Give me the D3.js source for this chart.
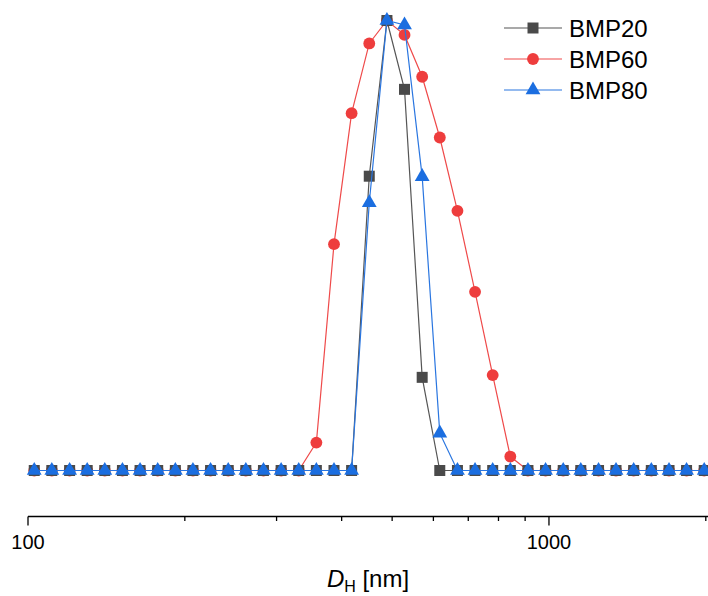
<!DOCTYPE html>
<html>
<head>
<meta charset="utf-8">
<script src="https://cdn.jsdelivr.net/npm/d3@7"></script>
<style>
  body { margin: 0; background: #fff; }
  text { font-family: "Liberation Sans", Arial, sans-serif; }
</style>
</head>
<body>
<div id="chart"></div>
<script>
// Data (hydrodynamic diameter bins, nm) and normalised intensities
const diameters = [102.8, 111.1, 120.2, 129.9, 140.4, 151.8, 164.1, 177.4, 191.8, 207.3,
    224.1, 242.3, 261.9, 283.1, 306.1, 330.9, 357.7, 386.7, 418.0, 451.9,
    488.6, 528.1, 571.0, 617.2, 667.3, 721.3, 779.8, 843.0, 911.3, 985.1,
    1065, 1151, 1245, 1345, 1454, 1572, 1700, 1837, 1986];

const bmp20 = [0, 0, 0, 0, 0, 0, 0, 0, 0, 0,
    0, 0, 0, 0, 0, 0, 0, 0, 0, 65.4,
    100, 84.7, 20.7, 0, 0, 0, 0, 0, 0, 0,
    0, 0, 0, 0, 0, 0, 0, 0, 0];

const bmp60 = [0, 0, 0, 0, 0, 0, 0, 0, 0, 0,
    0, 0, 0, 0, 0, 0, 6.2, 50.3, 79.4, 94.9,
    100, 96.8, 87.5, 74.0, 57.7, 39.7, 21.2, 3.1, 0, 0,
    0, 0, 0, 0, 0, 0, 0, 0, 0];

const bmp80 = [0, 0, 0, 0, 0, 0, 0, 0, 0, 0,
    0, 0, 0, 0, 0, 0, 0, 0, 0, 59.5,
    100, 99.0, 65.3, 8.3, 0, 0, 0, 0, 0, 0,
    0, 0, 0, 0, 0, 0, 0, 0, 0];

const seriesNames = ["BMP20", "BMP60", "BMP80"];
const majorTicks = [100, 1000];
const minorTicks = [200, 300, 400, 500, 600, 700, 800, 900, 2000];

// Layout
const W = 708, H = 596;
const axisY = 516.5;

const svg = d3.select("#chart")
    .append("svg")
    .attr("width", W)
    .attr("height", H);

const x = d3.scaleLog()
    .domain([100, 2019.6])
    .range([28, 708]);

const y = d3.scaleLinear()
    .domain([0, 100])
    .range([470.5, 20.5]);

// Series styles (draw order: red, gray, blue)
const series = [
    { name: "BMP60", values: bmp60, line: "#ef4a4a", fill: "#ee3d3d", symbol: d3.symbolCircle, size: 110 },
    { name: "BMP20", values: bmp20, line: "#555555", fill: "#4a4a4a", symbol: d3.symbolSquare, size: 121 },
    { name: "BMP80", values: bmp80, line: "#2a76e0", fill: "#1b6ee0", symbol: d3.symbolTriangle, size: 95 }
];

const line = d3.line()
    .x(d => x(d.d))
    .y(d => y(d.v));

series.forEach(s => {
    const pts = diameters.map((d, i) => ({ d, v: s.values[i] }));
    const g = svg.append("g").attr("class", "series");

    g.append("path")
        .datum(pts)
        .attr("fill", "none")
        .attr("stroke", s.line)
        .attr("stroke-width", 1.2)
        .attr("d", line);

    g.selectAll("path.mark")
        .data(pts)
        .join("path")
        .attr("class", "mark")
        .attr("transform", d => `translate(${x(d.d)},${y(d.v)})`)
        .attr("d", d3.symbol(s.symbol, s.size))
        .attr("fill", s.fill);
});

// X axis
const axis = svg.append("g").attr("class", "x-axis");

axis.append("line")
    .attr("x1", x(100))
    .attr("x2", W)
    .attr("y1", axisY)
    .attr("y2", axisY)
    .attr("stroke", "#000")
    .attr("stroke-width", 1.3);

axis.selectAll("line.major")
    .data(majorTicks)
    .join("line")
    .attr("class", "major")
    .attr("x1", d => x(d))
    .attr("x2", d => x(d))
    .attr("y1", axisY)
    .attr("y2", axisY + 9)
    .attr("stroke", "#000")
    .attr("stroke-width", 1.3);

axis.selectAll("line.minor")
    .data(minorTicks)
    .join("line")
    .attr("class", "minor")
    .attr("x1", d => x(d))
    .attr("x2", d => x(d))
    .attr("y1", axisY)
    .attr("y2", axisY + 4.5)
    .attr("stroke", "#000")
    .attr("stroke-width", 1.3);

axis.selectAll("text.tick-label")
    .data(majorTicks)
    .join("text")
    .attr("class", "tick-label")
    .attr("x", d => x(d))
    .attr("y", 549)
    .attr("text-anchor", "middle")
    .style("font-size", "20px")
    .text(d => d);

// Axis title
const title = svg.append("text")
    .attr("x", 368)
    .attr("y", 587)
    .attr("text-anchor", "middle")
    .style("font-size", "24px");
title.append("tspan").style("font-style", "italic").text("D");
title.append("tspan").attr("dy", 5).style("font-size", "16px").text("H");
title.append("tspan").attr("dy", -5).text(" [nm]");

// Legend
const legendOrder = [series[1], series[0], series[2]];
const legend = svg.append("g")
    .attr("class", "legend")
    .attr("transform", "translate(504, 28)");

legendOrder.forEach((s, i) => {
    const row = legend.append("g").attr("transform", `translate(0, ${i * 31})`);
    row.append("line")
        .attr("x1", 0).attr("x2", 58)
        .attr("y1", 0).attr("y2", 0)
        .attr("stroke", s.line)
        .attr("stroke-width", 1.2);
    row.append("path")
        .attr("transform", "translate(29,0)")
        .attr("d", d3.symbol(s.symbol, s.size))
        .attr("fill", s.fill);
    row.append("text")
        .attr("x", 65)
        .attr("y", 8.5)
        .style("font-size", "24px")
        .text(s.name);
});
</script>
</body>
</html>
